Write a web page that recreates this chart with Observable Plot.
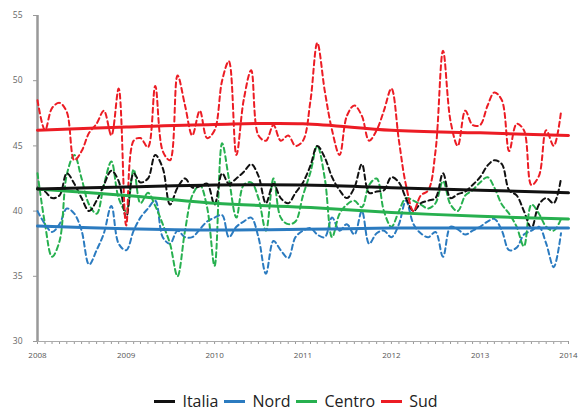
<!DOCTYPE html>
<html>
<head>
<meta charset="utf-8">
<script src="https://cdn.jsdelivr.net/npm/d3@7"></script>
<script src="https://cdn.jsdelivr.net/npm/@observablehq/plot@0.6"></script>
<style>
  html, body { margin: 0; padding: 0; background: #fff; }
  #chart { width: 584px; }
  .legend { display: flex; justify-content: center; align-items: center; gap: 6px;
    font-family: "Open Sans", sans-serif; font-size: 16px; line-height: 18px; color: #222; height: 62px; padding-left: 8px; box-sizing: border-box; }
  .legend .item { display: flex; align-items: center; }
  .legend .sw { display: inline-block; width: 21px; height: 3px; margin-right: 7px; }
</style>
</head>
<body>
<div id="chart"></div>
<script>
// ---- data ----
const seriesNames = ["Italia", "Nord", "Centro", "Sud"];
const seriesColors = ["#111111", "#2b7bc0", "#27b04f", "#ec1c24"];

const italia = [41.8,41.5,41.0,41.2,42.9,42.1,41.0,40.0,40.8,42.0,43.1,42.3,
                39.5,42.9,42.2,42.5,44.3,43.3,40.5,41.8,42.5,41.8,41.9,42.1,
                40.5,42.9,42.1,42.5,43.0,43.6,42.7,40.6,42.1,41.0,40.6,41.4,
                42.2,43.5,45.0,44.1,42.6,41.6,41.0,41.8,43.6,41.4,41.5,41.6,
                42.6,42.2,41.0,40.0,40.6,40.8,41.0,42.9,41.0,41.3,41.5,42.0,
                42.6,43.5,43.9,43.6,41.6,41.2,40.0,38.7,40.5,41.0,40.6,42.5];
const nord   = [40.0,39.0,38.4,39.0,40.2,39.8,38.5,35.9,37.0,38.3,40.4,37.5,
                37.0,38.5,39.5,40.2,40.8,38.0,37.5,38.5,38.0,38.0,38.6,39.2,
                39.5,39.7,38.0,38.8,39.2,39.5,38.0,35.2,37.7,37.0,36.4,38.0,
                38.5,38.7,38.2,38.0,39.5,38.5,39.0,38.2,40.0,37.5,38.3,38.5,
                38.0,39.0,40.8,39.0,38.3,38.0,38.4,36.5,38.8,38.6,38.2,38.5,
                38.8,39.2,39.4,38.5,37.0,37.2,38.2,38.5,38.8,37.5,35.7,38.3];
const centro = [42.9,39.0,36.5,37.7,42.8,44.3,42.5,40.5,39.8,42.0,43.8,41.0,
                40.0,43.2,40.6,41.4,40.4,39.0,37.5,35.0,38.5,41.2,42.0,40.3,
                35.8,45.2,42.5,39.5,42.0,42.2,41.0,38.5,42.5,39.5,39.0,39.2,
                41.2,43.0,45.0,42.5,38.0,39.8,40.5,40.8,40.3,42.0,42.5,40.0,
                38.8,40.0,41.0,40.8,40.5,40.2,40.6,42.3,40.5,40.0,41.2,41.6,
                42.2,42.6,41.8,40.5,39.8,38.8,37.3,40.5,39.8,38.8,38.5,39.4];
const sud    = [48.5,46.2,47.9,48.3,47.6,43.9,44.6,46.0,46.7,47.7,45.8,49.4,
                38.9,45.4,45.6,44.9,49.6,44.6,43.9,50.4,48.1,45.8,47.7,45.6,
                46.2,50.0,51.5,44.3,48.5,50.8,45.8,45.4,46.6,45.4,45.8,45.0,
                45.4,48.5,52.9,49.2,46.2,44.3,47.3,48.1,47.3,45.4,46.2,47.7,
                49.4,45.4,42.0,40.0,41.2,41.6,44.6,52.3,46.9,45.0,47.7,46.6,
                46.6,48.1,49.1,48.5,44.6,46.7,46.2,42.0,42.7,46.2,45.0,47.6];

const trendYears  = [2008, 2009, 2010, 2011, 2012, 2013, 2014];
const trendItalia = [41.7, 41.85, 42.0, 42.0, 41.8, 41.6, 41.4];
const trendNord   = [38.85, 38.65, 38.55, 38.6, 38.7, 38.7, 38.7];
const trendCentro = [41.7, 41.2, 40.6, 40.3, 39.9, 39.6, 39.4];
const trendSud    = [46.2, 46.45, 46.65, 46.7, 46.2, 46.0, 45.8];

const yTicks = [30, 35, 40, 45, 50, 55];

// ---- build tables ----
const months = d3.range(italia.length).map(i => new Date(Date.UTC(2008, i, 1)));
const monthly = [italia, nord, centro, sud];
const trends = [trendItalia, trendNord, trendCentro, trendSud];
const dashedData = [];
monthly.forEach((vals, s) => vals.forEach((v, i) => dashedData.push({series: seriesNames[s], date: months[i], value: v})));
const trendData = [];
trends.forEach((vals, s) => vals.forEach((v, i) => trendData.push({series: seriesNames[s], date: new Date(Date.UTC(trendYears[i], 0, 1)), value: v})));

const x0 = new Date(Date.UTC(trendYears[0], 0, 1));
const x1 = new Date(Date.UTC(trendYears[trendYears.length - 1], 0, 1));
const minorTicks = d3.utcMonth.range(x0, d3.utcMonth.offset(x1, 1));
const yearTicks = trendYears.map(y => new Date(Date.UTC(y, 0, 1)));

const drawOrder = ["Nord", "Centro", "Italia", "Sud"];
const colorScale = {domain: seriesNames, range: seriesColors};

const marks = [];
drawOrder.forEach(name => {
  marks.push(Plot.line(dashedData.filter(d => d.series === name), {
    x: "date", y: "value", stroke: "series", strokeWidth: 2,
    strokeDasharray: "5,3.5", curve: "catmull-rom"
  }));
});
drawOrder.forEach(name => {
  marks.push(Plot.line(trendData.filter(d => d.series === name), {
    x: "date", y: "value", stroke: "series", strokeWidth: 3, curve: "catmull-rom"
  }));
});

const chart = Plot.plot({
  width: 584,
  height: 370,
  marginLeft: 37,
  marginRight: 16,
  marginTop: 15,
  marginBottom: 29,
  style: {fontFamily: "'Open Sans', sans-serif", background: "#fff"},
  x: {type: "utc", domain: [x0, x1]},
  y: {domain: [yTicks[0], yTicks[yTicks.length - 1]]},
  color: colorScale,
  marks: [
    Plot.axisY({ticks: yTicks, tickSize: 4, tickPadding: 11, fontSize: 8.5, stroke: "#999", color: "#666", label: null}),
    Plot.axisX({ticks: minorTicks, tickSize: 3, text: null, stroke: "#999", label: null}),
    Plot.axisX({ticks: yearTicks, tickSize: 0, tickPadding: 11, fontSize: 8, color: "#555", tickFormat: d3.utcFormat("%Y"), label: null}),
    Plot.ruleY([yTicks[0]], {stroke: "#aaa", strokeWidth: 1.2}),
    Plot.ruleX([x0], {stroke: "#999", strokeWidth: 2.5}),
    ...marks
  ]
});
document.getElementById("chart").appendChild(chart);

// legend
const legend = document.createElement("div");
legend.className = "legend";
seriesNames.forEach((n, i) => {
  const it = document.createElement("span");
  it.className = "item";
  const sw = document.createElement("span");
  sw.className = "sw";
  sw.style.background = seriesColors[i];
  it.appendChild(sw);
  it.appendChild(document.createTextNode(n));
  legend.appendChild(it);
});
document.getElementById("chart").appendChild(legend);
</script>
</body>
</html>
